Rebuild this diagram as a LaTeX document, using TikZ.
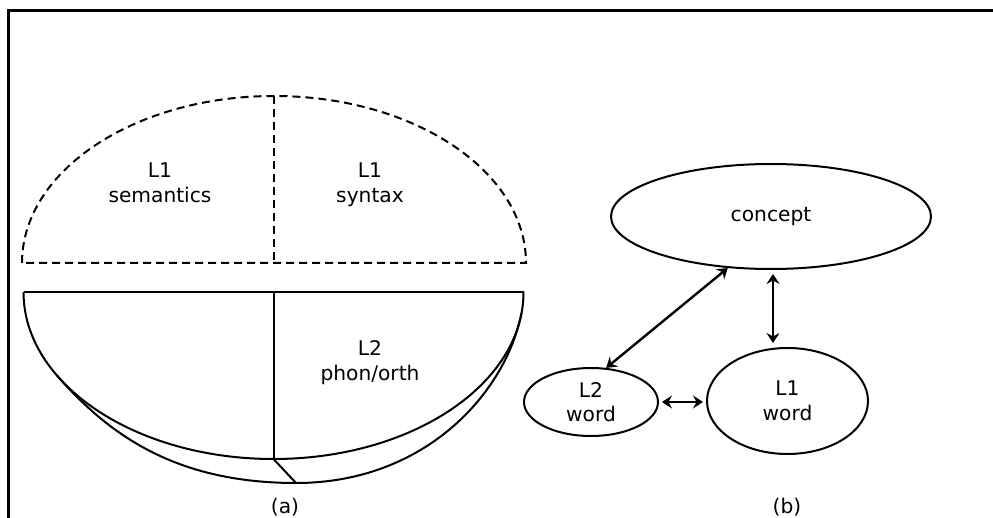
\documentclass[tikz,border=0pt]{standalone}
\usepackage{fontspec}
\setmainfont{DejaVu Sans}
\usetikzlibrary{shapes.geometric,arrows.meta,calc}
\begin{document}
\begin{tikzpicture}[x=1pt,y=-1pt,
  lbl/.style={font=\fontsize{20.2}{25}\selectfont, align=center, inner sep=0pt},
  blob/.style={draw, ellipse, line width=2pt, inner sep=0pt,
               font=\fontsize{20.2}{24.5}\selectfont, align=center},
  tip/.tip={Stealth[length=10pt,width=13pt,inset=3.5pt]},
  link/.style={line width=2.4pt, tip-tip},
  rim/.style={line width=2pt},
  dashrim/.style={line width=2pt, dash pattern=on 8pt off 5pt}]
\useasboundingbox (0,0) rectangle (993,518);

% outer frame (open to the right and bottom)
\draw[line width=2.6pt] (8.5,520) -- (8.5,10.5) -- (1000,10.5);

% (a) upper dashed half: L1 semantics / L1 syntax
\draw[dashrim] (22,263) arc[start angle=180, end angle=360, x radius=252, y radius=167] -- cycle;
\draw[dashrim] (274,96) -- (274,263);

% (a) lower solid bowl: L2 phon/orth
\draw[rim] (23.5,292) -- (523.5,292);
\draw[rim] (23.5,292) arc[start angle=180, end angle=0, x radius=250, y radius=167];
\draw[rim] (273.5,292) -- (273.5,459);
\draw[rim] (57,375.5) .. controls (109,435) and (176,483) .. (296,483)
                      .. controls (426,483) and (506,392) .. (521.5,313);
\draw[rim] (273.5,459) -- (296,483);

% multi-line labels are anchored on the baseline of their last line
\node[lbl, anchor=base] (semlbl) at (160,203) {L1\\semantics};
\node[lbl, anchor=base] (synlbl) at (370,203) {L1\\syntax};
\node[lbl, anchor=base] (phonlbl) at (370,381) {L2\\phon/orth};
\node[lbl, anchor=base] (capa) at (285,513) {(a)};

% (b) concept / word network
\node[blob, minimum width=320pt, minimum height=105pt] (concept) at (771,216.5) {concept};
\node[blob, minimum width=134pt, minimum height=68pt] (l2) at (591,402) {L2\\word};
\node[blob, minimum width=161pt, minimum height=106pt] (l1) at (787.5,401) {L1\\word};

\coordinate (vx) at (773,0);
\draw[link] (concept.230.8) -- (l2.66.2);
\draw[link, shorten <=4pt, shorten >=4pt] (concept.south -| vx) -- (l1.north -| vx);
\draw[link, shorten <=3pt, shorten >=3pt] (l2.east) -- (l2.east -| l1.west);

\node[lbl, anchor=base] (capb) at (787,513) {(b)};
\end{tikzpicture}
\end{document}
